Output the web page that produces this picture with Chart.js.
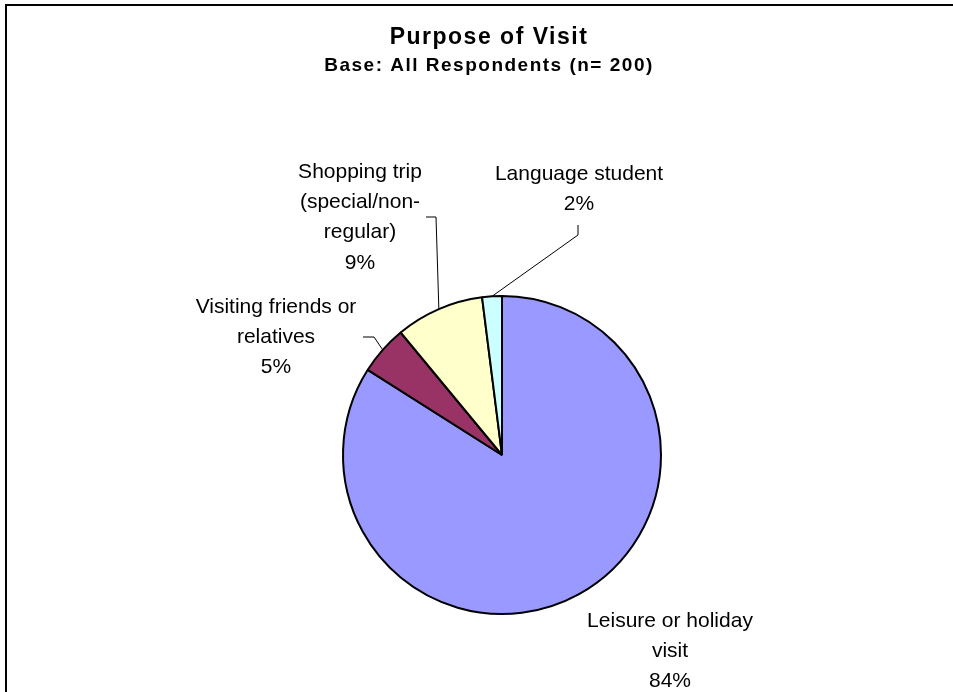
<!DOCTYPE html>
<html><head><meta charset="utf-8">
<script src="https://cdn.jsdelivr.net/npm/chart.js@4"></script>
<style>html,body{margin:0;padding:0;background:#fff;overflow:hidden}#wrap{width:953px;height:692px;position:relative}</style>
</head><body><div id="wrap"><canvas id="c" width="953" height="692"></canvas></div>
<script>
const titleText = 'Purpose of Visit';
const subtitleText = 'Base: All Respondents (n= 200)';
const categories = ['Leisure or holiday visit', 'Visiting friends or relatives', 'Shopping trip (special/non-regular)', 'Language student'];
const labelLines = [['Leisure or holiday', 'visit'], ['Visiting friends or', 'relatives'], ['Shopping trip', '(special/non-', 'regular)'], ['Language student']];
const percentValues = [84, 5, 9, 2];
const sliceColors = ['#9999FF', '#993366', '#FFFFCC', '#CCFFFF'];

// label placement relative to pie centre (layout only)
const labelLayout = [
  {dx: 168, dy: 166, leader: null},
  {dx: -226, dy: -148, leader: [[-128, -118], [-139, -118]]},
  {dx: -142, dy: -283, leader: [[-66, -238], [-76, -238]]},
  {dx: 77, dy: -281, leader: [[76, -220], [76, -230]]}
];

const overlay = {
  id: 'overlay',
  afterDraw(chart) {
    const ctx = chart.ctx;
    ctx.save();
    // frame
    ctx.strokeStyle = '#000';
    ctx.lineWidth = 2;
    ctx.strokeRect(6, 5, 970, 720);
    // titles
    ctx.fillStyle = '#000';
    ctx.textAlign = 'center';
    ctx.textBaseline = 'middle';
    ctx.letterSpacing = '1.5px';
    ctx.font = 'bold 23px "Liberation Sans", Arial, sans-serif';
    ctx.fillText(titleText, 489, 38);
    ctx.letterSpacing = '1.5px';
    ctx.font = 'bold 19px "Liberation Sans", Arial, sans-serif';
    ctx.fillText(subtitleText, 489, 66);
    ctx.letterSpacing = '0px';
    // labels
    const meta = chart.getDatasetMeta(0);
    ctx.font = '21px "Liberation Sans", Arial, sans-serif';
    meta.data.forEach((arc, i) => {
      const p = arc.getProps(['x', 'y', 'startAngle', 'endAngle', 'outerRadius'], true);
      const mid = (p.startAngle + p.endAngle) / 2;
      const lay = labelLayout[i];
      if (lay.leader) {
        ctx.beginPath();
        ctx.strokeStyle = '#000';
        ctx.lineWidth = 1;
        ctx.moveTo(p.x + Math.cos(mid) * p.outerRadius, p.y + Math.sin(mid) * p.outerRadius);
        lay.leader.forEach(pt => ctx.lineTo(p.x + pt[0], p.y + pt[1]));
        ctx.stroke();
      }
      const lines = labelLines[i].concat([percentValues[i] + '%']);
      lines.forEach((t, k) => {
        ctx.fillText(t, p.x + lay.dx, p.y + lay.dy + k * 30.3);
      });
    });
    ctx.restore();
  }
};

new Chart(document.getElementById('c'), {
  type: 'pie',
  data: {
    labels: categories,
    datasets: [{
      data: percentValues,
      backgroundColor: sliceColors,
      borderColor: '#000',
      borderWidth: 2,
      radius: 159
    }]
  },
  options: {
    responsive: false,
    devicePixelRatio: 1,
    animation: false,
    layout: {padding: {left: 51, right: 0, top: 218, bottom: 0}},
    plugins: {legend: {display: false}, tooltip: {enabled: false}, title: {display: false}}
  },
  plugins: [overlay]
});
</script>
</body></html>
